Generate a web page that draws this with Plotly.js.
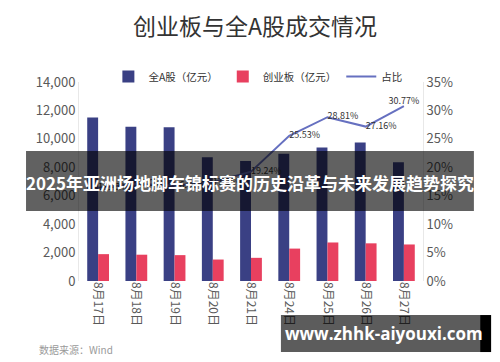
<!DOCTYPE html>
<html>
<head>
<meta charset="utf-8">
<script src="https://cdn.plot.ly/plotly-3.0.1.min.js"></script>
<style>html,body{margin:0;padding:0;background:#fff;}#chart{width:500px;height:362px;}</style>
</head>
<body>
<div id="chart"></div>
<script>
const categories = ["8月17日","8月18日","8月19日","8月20日","8月21日","8月24日","8月25日","8月26日","8月27日"];
const allA = [11500, 10850, 10820, 8700, 8450, 8950, 9400, 9750, 8350];
const gem = [1890, 1850, 1820, 1510, 1630, 2280, 2710, 2650, 2570];
const ratio = [16.42, 17.05, 16.81, 17.36, 19.24, 25.53, 28.81, 27.16, 30.77];
const seriesNames = ["全A股（亿元）", "创业板（亿元）", "占比"];
const titleText = "创业板与全A股成交情况";
const bannerText = "2025年亚洲场地脚车锦标赛的历史沿革与未来发展趋势探究";
const watermarkText = "www.zhhk-aiyouxi.com";
const sourceText = "数据来源：Wind";

const FONT = "Noto Sans CJK SC, Noto Sans, sans-serif";
const labelPos = ratio.map((v,i)=> i===ratio.length-1 ? "top center" : "middle right");
const traces = [
  {type:"bar", name:seriesNames[0], x:categories, y:allA, marker:{color:"#3a4084"}},
  {type:"bar", name:seriesNames[1], x:categories, y:gem, marker:{color:"#e8405f"}},
  {type:"scatter", mode:"lines+text", name:seriesNames[2], x:categories, y:ratio, yaxis:"y2",
   line:{color:"#6670c0", width:2}, text:ratio.map(v=>v.toFixed(2)+"%"),
   textposition:labelPos, cliponaxis:false, textfont:{size:9, color:"#333", family:FONT}}
];
const layout = {
  width:500, height:362,
  margin:{l:79, r:77, t:82, b:81},
  paper_bgcolor:"#fff", plot_bgcolor:"#fff",
  font:{family:FONT, color:"#595959"},
  title:{text:titleText, x:0.51, xanchor:"center", y:0.925, yanchor:"middle",
         font:{size:23, color:"#333", family:FONT}},
  barmode:"group", bargap:0.43, bargroupgap:0,
  showlegend:true,
  legend:{orientation:"h", x:0.52, xanchor:"center", y:1.1, yanchor:"top",
          font:{size:10.5, color:"#333"}, itemwidth:30, traceorder:"normal"},
  xaxis:{tickangle:90, tickfont:{size:12, color:"#595959"}, showline:false, ticks:"", showgrid:false},
  yaxis:{range:[0,14000], dtick:2000, tickformat:",d", showgrid:false, zeroline:false,
         showline:true, linecolor:"#e8e8e8", linewidth:1, tickfont:{size:13, color:"#595959"}, ticks:""},
  yaxis2:{range:[0,35], dtick:5, ticksuffix:"%", overlaying:"y", side:"right", showgrid:false,
          zeroline:false, showline:true, linecolor:"#e8e8e8", linewidth:1,
          tickfont:{size:13, color:"#595959"}, ticks:""},
  shapes:[
    {type:"rect", xref:"paper", yref:"paper", x0:-0.154, x1:1.148, y0:0.352, y1:0.653,
     fillcolor:"rgba(0,0,0,0.62)", line:{width:0}, layer:"above"},
    {type:"rect", xref:"paper", yref:"paper", x0:0.587, x1:1.166, y0:-0.357, y1:-0.171,
     fillcolor:"rgba(0,0,0,0.64)", line:{width:0}, layer:"above"},
    {type:"rect", xref:"paper", yref:"paper", x0:1.166, x1:1.198, y0:-0.357, y1:-0.171,
     fillcolor:"#000", line:{width:0}, layer:"above"}
  ],
  annotations:[
    {text:"<b>"+bannerText+"</b>", xref:"paper", yref:"paper", x:0.497, y:0.4925,
     xanchor:"center", yanchor:"middle", showarrow:false,
     font:{size:17, color:"#fff", family:FONT}},
    {text:"<b>"+watermarkText+"</b>", xref:"paper", yref:"paper", x:0.887, y:-0.262,
     xanchor:"center", yanchor:"middle", showarrow:false,
     font:{size:17, color:"#fff", family:"Open Sans, Noto Sans, sans-serif"}},
    {text:sourceText, xref:"paper", yref:"paper", x:-0.122, y:-0.342,
     xanchor:"left", yanchor:"middle", showarrow:false,
     font:{size:10, color:"#9a9a9a", family:FONT}}
  ]
};
Plotly.newPlot("chart", traces, layout, {displayModeBar:false, staticPlot:true});
</script>
</body>
</html>
